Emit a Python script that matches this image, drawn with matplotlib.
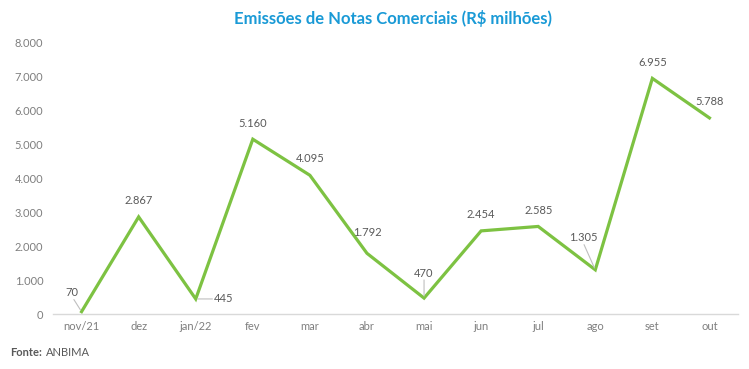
import matplotlib.pyplot as plt
from matplotlib.ticker import FuncFormatter

# ---- data ----
months = ["nov/21", "dez", "jan/22", "fev", "mar", "abr", "mai", "jun", "jul", "ago", "set", "out"]
values = [70, 2867, 445, 5160, 4095, 1792, 470, 2454, 2585, 1305, 6955, 5788]
y_ticks = [0, 1000, 2000, 3000, 4000, 5000, 6000, 7000, 8000]

# label offsets in points (dx, dy); leader anchor on the label box (None = no leader)
label_offsets = [(-7, 13.5), (0, 12), (13, 0), (0, 11.5), (0, 12), (0, 15),
                 (0, 18), (0, 11.5), (0, 11.5), (-8.5, 23), (0, 11.5), (0, 12)]
leaders = [(0.6, 0), None, (0, 0.5), None, None, None,
           (0.5, 0), None, None, (0.5, 0), None, None]


def br_thousands(v, pos=None):
    return f"{int(v):,}".replace(",", ".")


def main():
    plt.rcParams["font.family"] = ["Lato", "DejaVu Sans"]

    fig = plt.figure(figsize=(7.49, 3.69), dpi=100)
    ax = fig.add_axes([0.0708, 0.149, 0.9145, 0.7345])

    x = list(range(len(months)))
    ax.plot(x, values, color="#7dc242", linewidth=2.3, solid_joinstyle="miter", zorder=3)

    ax.set_xlim(-0.5, len(months) - 0.5)
    ax.set_ylim(0, 8000)
    ax.set_yticks(y_ticks)
    ax.yaxis.set_major_formatter(FuncFormatter(br_thousands))
    ax.set_xticks(x)
    ax.set_xticklabels(months)
    ax.tick_params(axis="both", length=0, labelsize=8, labelcolor="#7f7f7f")
    ax.tick_params(axis="y", pad=7)
    ax.tick_params(axis="x", pad=5)

    for side in ["top", "right", "left"]:
        ax.spines[side].set_visible(False)
    ax.spines["bottom"].set_color("#d9d9d9")
    ax.spines["bottom"].set_linewidth(1.0)

    # data labels
    for i, v in enumerate(values):
        dx, dy = label_offsets[i]
        arrow = None
        if leaders[i] is not None:
            arrow = dict(arrowstyle="-", color="#bfbfbf", lw=0.8, patchA=None,
                         relpos=leaders[i], shrinkA=1, shrinkB=1.5)
        ha = "left" if dx > 10 else "center"
        ax.annotate(br_thousands(v), xy=(i, v), xytext=(dx, dy),
                    textcoords="offset points", ha=ha, va="center",
                    fontsize=8, color="#595959", arrowprops=arrow, zorder=4)

    fig.text(0.525, 0.95, "Emissões de Notas Comerciais (R$ milhões)",
             ha="center", va="center", fontsize=12, fontweight="bold", color="#1a9ad6")

    fig.text(0.013, 0.046, "Fonte:", ha="left", va="center", fontsize=8,
             fontweight="bold", color="#595959")
    fig.text(0.061, 0.046, "ANBIMA", ha="left", va="center", fontsize=8, color="#595959")

    fig.savefig("out.png", dpi=100, facecolor="white")


if __name__ == "__main__":
    main()
